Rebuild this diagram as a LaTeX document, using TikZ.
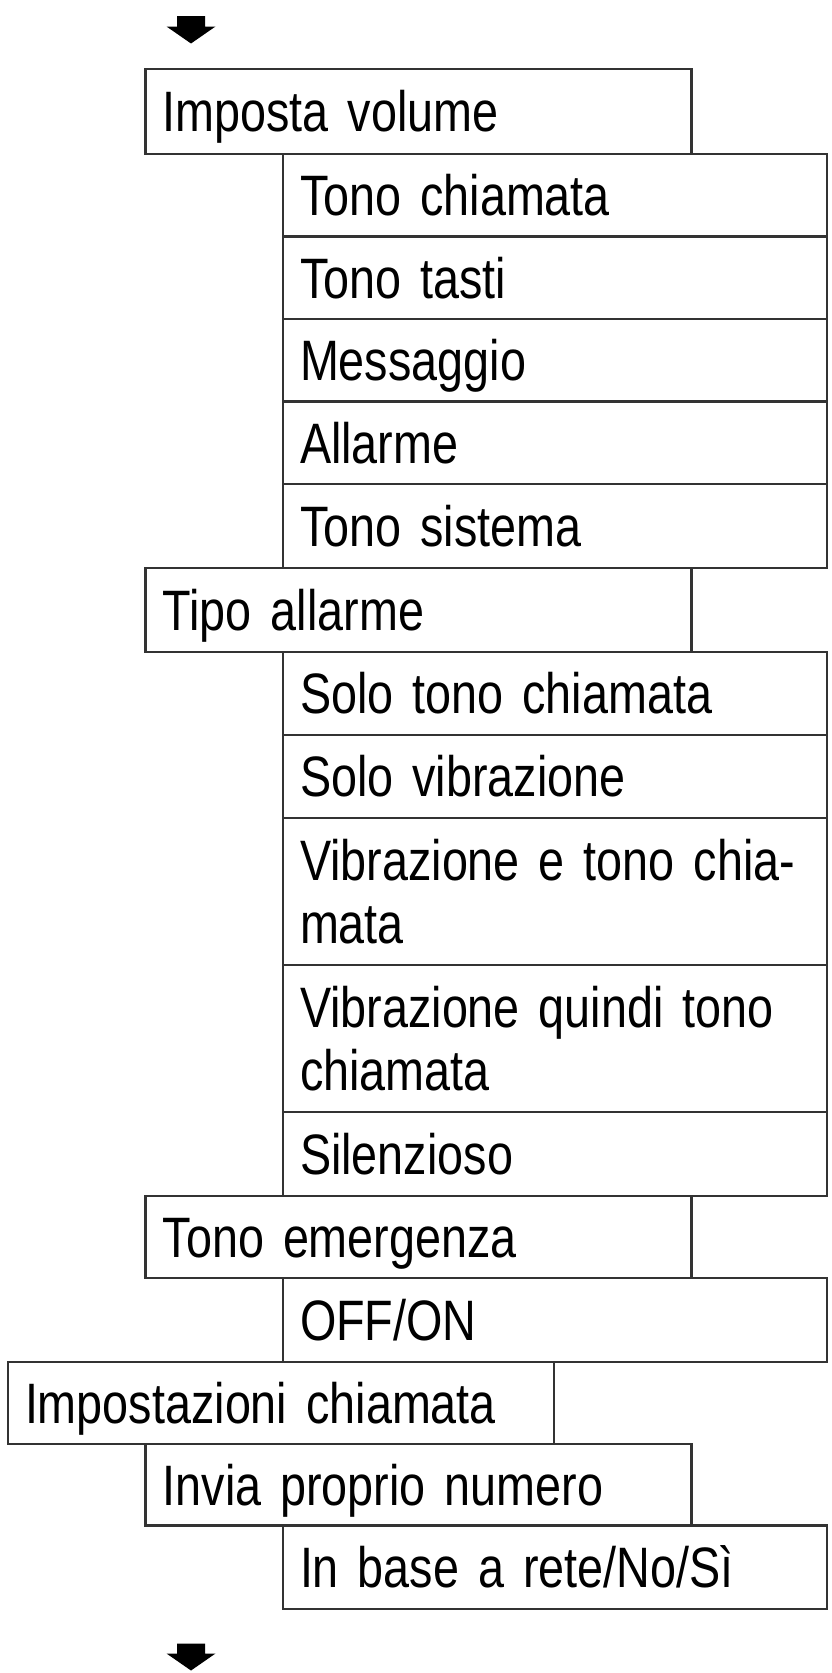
\documentclass[tikz,border=0pt]{standalone}
\usepackage{fontspec}
\setmainfont{Liberation Sans}[FakeStretch=0.82]
\begin{document}
\begin{tikzpicture}[x=1pt,y=-1pt,
  box/.style={draw=black!80, line width=2.6pt, anchor=north west, inner xsep=17pt, inner ysep=0pt,
    outer sep=0pt, align=left, font=\fontsize{57}{62.7}\selectfont, minimum width=546pt, text width=512pt},
  lvtwo/.style={minimum width=544pt, text width=510pt},
  one/.style={minimum height=#1, text height=55pt, text depth=14.25pt},
  two/.style={minimum height=#1, text height=55pt, text depth=76.9pt},
  flowarrow/.style={fill=black, draw=none}]
\useasboundingbox (0,0) rectangle (832,1673);
% level x positions: L0 = 8, L1 = 145.7, L2 = 283
\node[box, one=85pt] (n1) at (145.7,69) {Imposta volume};
\node[box, lvtwo, one=82.5pt] (n2) at (283,154) {Tono chiamata};
\node[box, lvtwo, one=82.5pt] (n3) at (283,236.5) {Tono tasti};
\node[box, lvtwo, one=82.5pt] (n4) at (283,319) {Messaggio};
\node[box, lvtwo, one=82.5pt] (n5) at (283,401.5) {Allarme};
\node[box, lvtwo, one=84pt] (n6) at (283,484) {Tono sistema};
\node[box, one=84pt] (n7) at (145.7,568) {Tipo allarme};
\node[box, lvtwo, one=83pt] (n8) at (283,652) {Solo tono chiamata};
\node[box, lvtwo, one=83pt] (n9) at (283,735) {Solo vibrazione};
\node[box, lvtwo, two=147pt] (n10) at (283,818) {Vibrazione e tono chia-\\mata};
\node[box, lvtwo, two=147pt] (n11) at (283,965) {Vibrazione quindi tono\\chiamata};
\node[box, lvtwo, one=84pt] (n12) at (283,1112) {Silenzioso};
\node[box, one=82pt] (n13) at (145.7,1196) {Tono emergenza};
\node[box, lvtwo, one=84pt] (n14) at (283,1278) {OFF/ON};
\node[box, one=82pt] (n15) at (8,1362) {Impostazioni chiamata};
\node[box, one=81.5pt] (n16) at (145.7,1444) {Invia proprio numero};
\node[box, lvtwo, one=83.5pt] (n17) at (283,1525.5) {In base a rete/No/Sì};
% flow arrows
\coordinate (topArrow) at (191,16);
\coordinate (botArrow) at (191,1643.5);
\fill[flowarrow] (topArrow) ++(-14,0) -- ++(28,0) -- ++(0,10.5) -- ++(10.5,0) -- ++(-24.5,17) -- ++(-24.5,-17) -- ++(10.5,0) -- cycle;
\fill[flowarrow] (botArrow) ++(-14,0) -- ++(28,0) -- ++(0,10) -- ++(10.5,0) -- ++(-24.5,17) -- ++(-24.5,-17) -- ++(10.5,0) -- cycle;
\end{tikzpicture}
\end{document}
